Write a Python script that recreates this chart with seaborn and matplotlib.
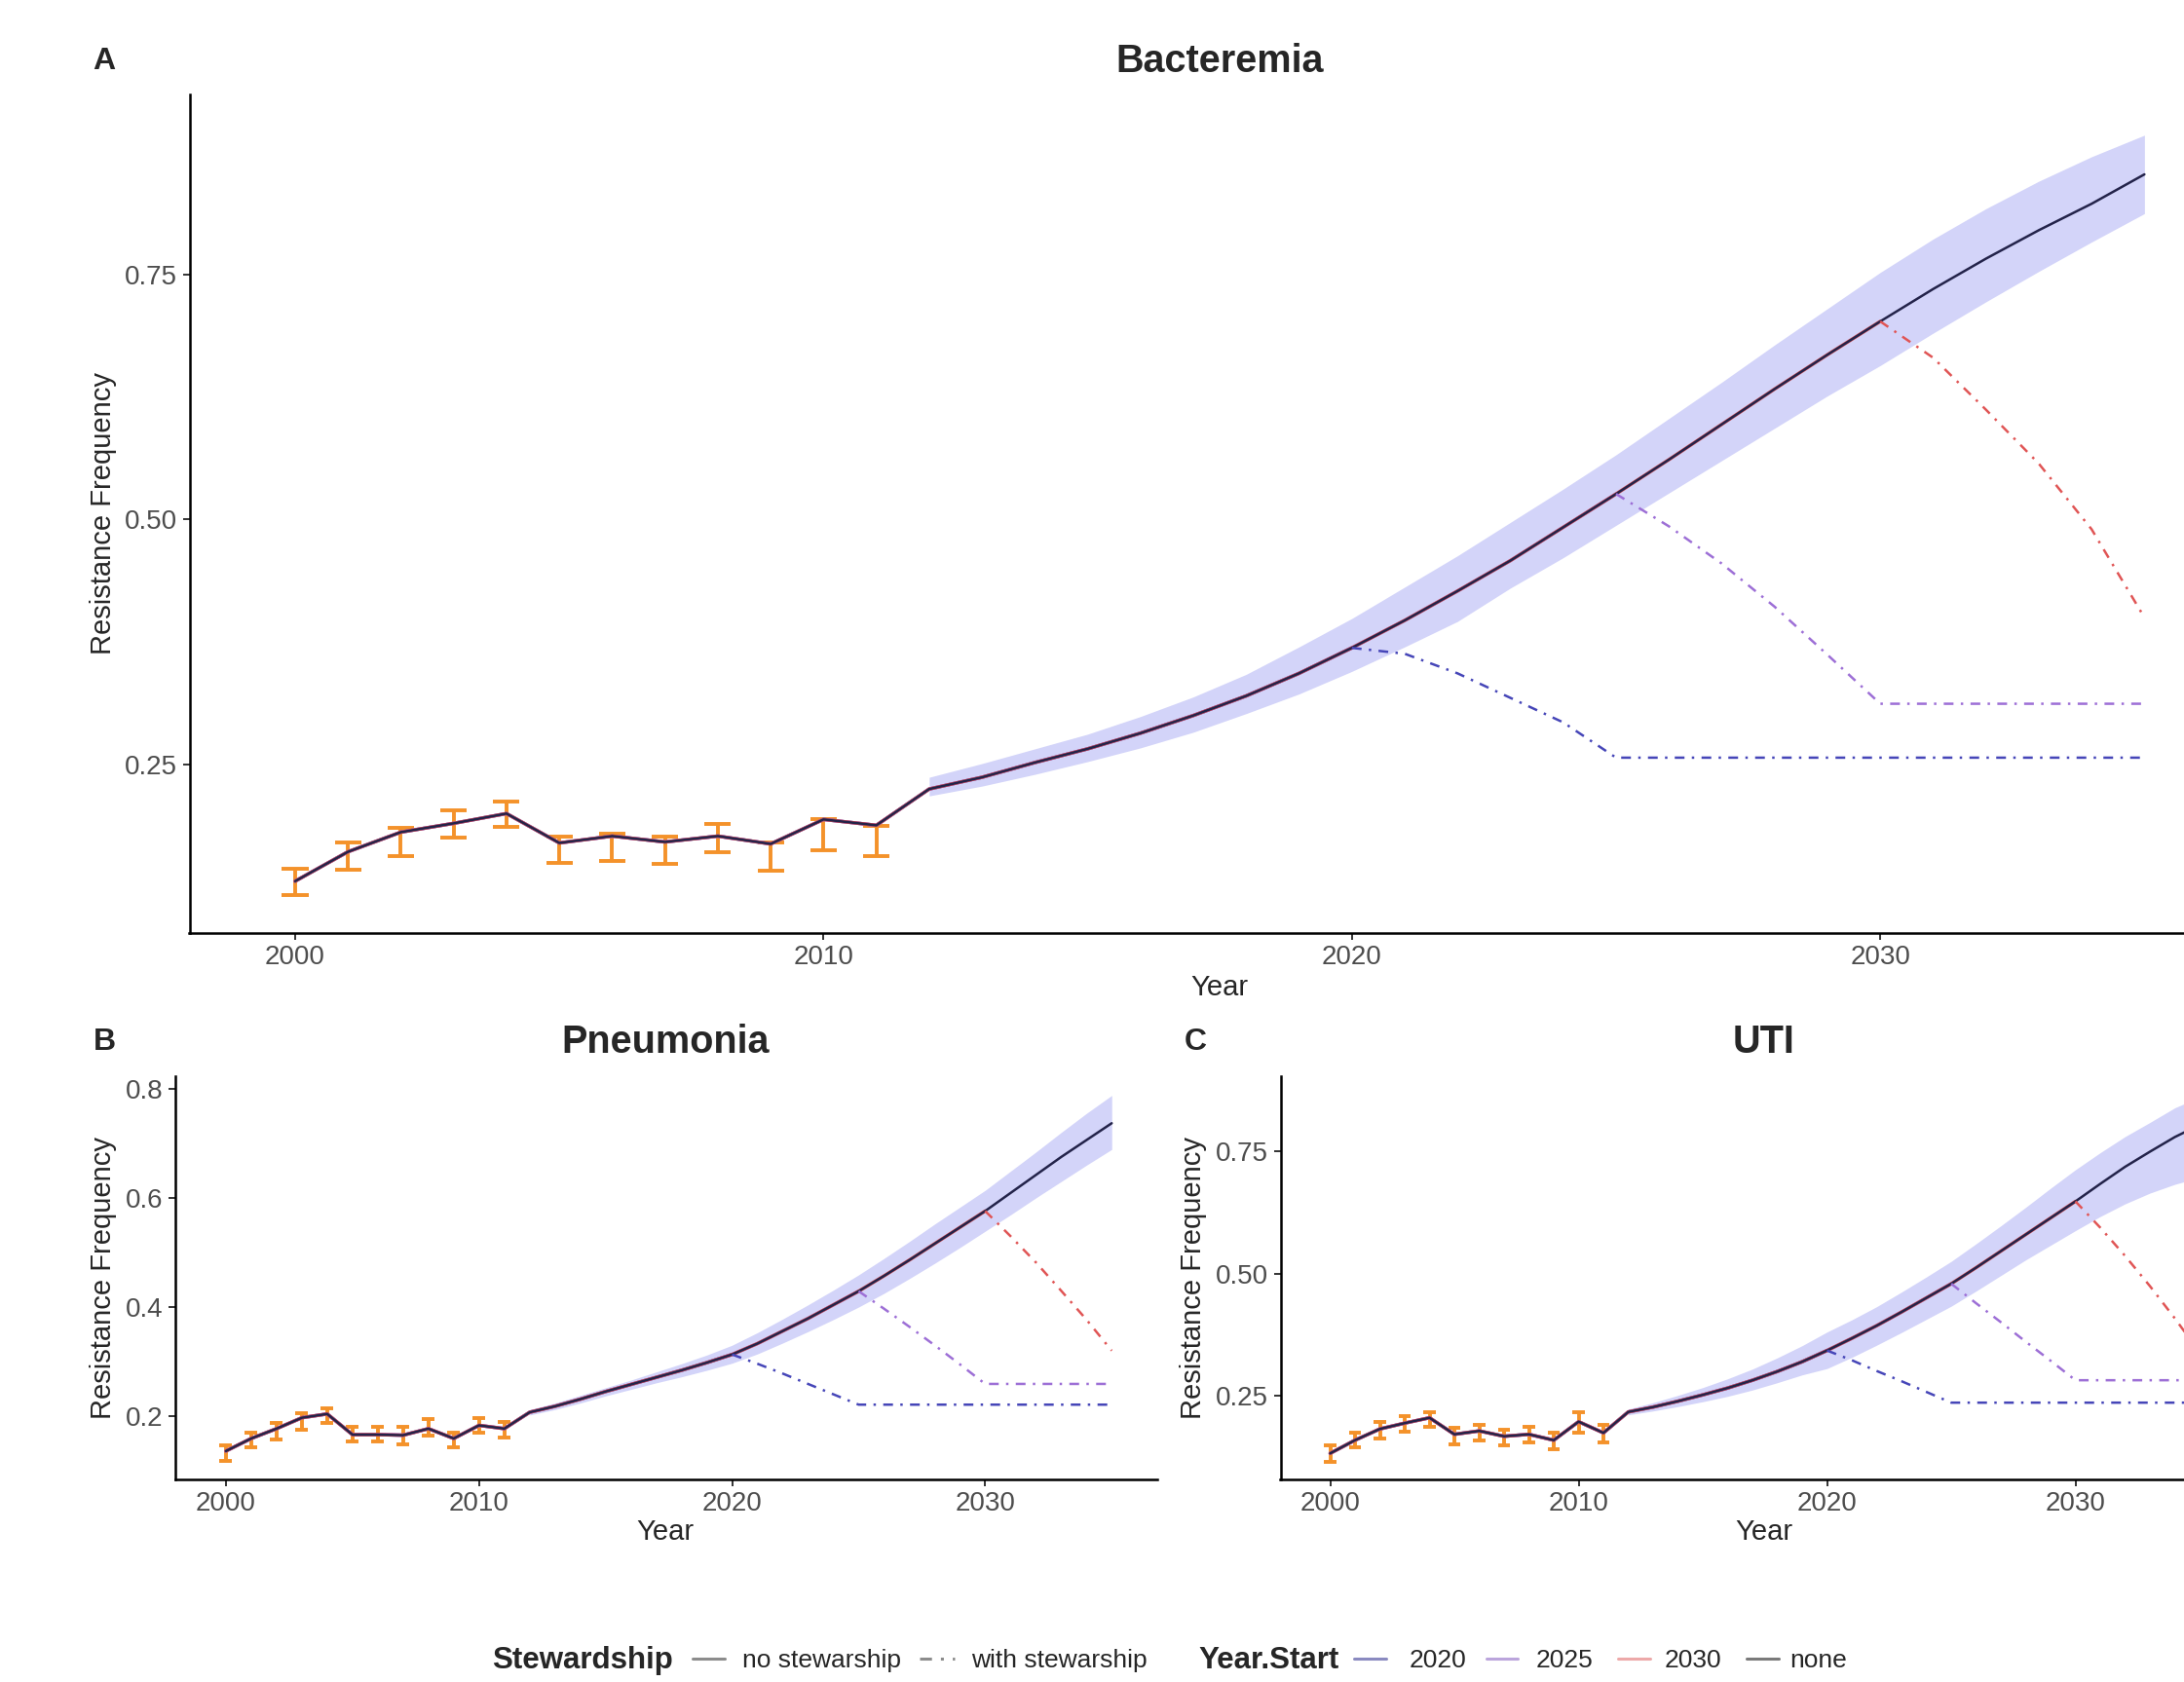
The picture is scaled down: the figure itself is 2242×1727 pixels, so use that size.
import numpy as np
import pandas as pd
import matplotlib
matplotlib.use("Agg")
import matplotlib.pyplot as plt
from matplotlib.lines import Line2D
import seaborn as sns

# Years
years_obs = list(range(2000, 2012))
years_fit = list(range(2000, 2036))
years_band = list(range(2012, 2036))
start_years = [2020, 2025, 2030]

# Panel A: Bacteremia
bact_fit = [0.131, 0.161, 0.181, 0.190, 0.200, 0.170, 0.177, 0.171, 0.177, 0.169, 0.194, 0.188,
            0.225, 0.237, 0.252, 0.266, 0.282, 0.300, 0.320, 0.343, 0.369, 0.397, 0.427, 0.458,
            0.492, 0.526, 0.561, 0.597, 0.633, 0.668, 0.702, 0.735, 0.766, 0.795, 0.822, 0.852]
bact_upper = [0.237, 0.251, 0.266, 0.281, 0.299, 0.319, 0.342, 0.370, 0.399, 0.431, 0.463, 0.497,
              0.531, 0.566, 0.603, 0.640, 0.678, 0.715, 0.752, 0.786, 0.817, 0.845, 0.870, 0.892]
bact_lower = [0.218, 0.228, 0.240, 0.253, 0.267, 0.283, 0.302, 0.322, 0.345, 0.370, 0.396, 0.430,
              0.461, 0.494, 0.527, 0.560, 0.593, 0.626, 0.657, 0.690, 0.722, 0.753, 0.783, 0.812]
bact_obs_lo = [0.117, 0.143, 0.157, 0.175, 0.186, 0.150, 0.152, 0.149, 0.161, 0.142, 0.163, 0.157]
bact_obs_hi = [0.144, 0.170, 0.185, 0.203, 0.212, 0.176, 0.179, 0.176, 0.189, 0.170, 0.194, 0.187]
bact_2020 = [0.369, 0.363, 0.343, 0.318, 0.293, 0.257, 0.257, 0.257, 0.257, 0.257, 0.257, 0.257,
             0.257, 0.257, 0.257, 0.257]
bact_2025 = [0.526, 0.493, 0.455, 0.411, 0.362, 0.312, 0.312, 0.312, 0.312, 0.312, 0.312]
bact_2030 = [0.702, 0.665, 0.612, 0.557, 0.490, 0.400]

# Panel B: Pneumonia
pneu_fit = [0.136, 0.159, 0.177, 0.197, 0.204, 0.166, 0.166, 0.165, 0.177, 0.159, 0.183, 0.177,
            0.207, 0.218, 0.231, 0.245, 0.258, 0.271, 0.284, 0.298, 0.313, 0.333, 0.356, 0.379,
            0.404, 0.429, 0.457, 0.486, 0.516, 0.546, 0.576, 0.609, 0.642, 0.675, 0.706, 0.737]
pneu_upper = [0.212, 0.224, 0.238, 0.252, 0.266, 0.281, 0.296, 0.312, 0.330, 0.353, 0.378, 0.404,
              0.431, 0.459, 0.489, 0.520, 0.552, 0.583, 0.614, 0.649, 0.684, 0.720, 0.755, 0.788]
pneu_lower = [0.202, 0.212, 0.224, 0.237, 0.249, 0.261, 0.272, 0.284, 0.297, 0.314, 0.334, 0.355,
              0.377, 0.400, 0.425, 0.452, 0.480, 0.509, 0.539, 0.569, 0.600, 0.630, 0.660, 0.689]
pneu_obs_lo = [0.118, 0.142, 0.157, 0.175, 0.187, 0.153, 0.153, 0.149, 0.164, 0.142, 0.170, 0.160]
pneu_obs_hi = [0.146, 0.170, 0.187, 0.205, 0.214, 0.180, 0.180, 0.180, 0.194, 0.170, 0.197, 0.190]
pneu_2020 = [0.313, 0.296, 0.278, 0.259, 0.240, 0.221, 0.221, 0.221, 0.221, 0.221, 0.221, 0.221,
             0.221, 0.221, 0.221, 0.221]
pneu_2025 = [0.429, 0.397, 0.364, 0.330, 0.295, 0.259, 0.259, 0.259, 0.259, 0.259, 0.259]
pneu_2030 = [0.576, 0.530, 0.482, 0.430, 0.377, 0.320]

# Panel C: UTI
uti_fit = [0.131, 0.158, 0.181, 0.193, 0.204, 0.170, 0.177, 0.166, 0.170, 0.158, 0.196, 0.173,
           0.216, 0.226, 0.238, 0.251, 0.265, 0.281, 0.299, 0.319, 0.342, 0.367, 0.393, 0.421,
           0.450, 0.479, 0.512, 0.546, 0.580, 0.614, 0.648, 0.684, 0.719, 0.750, 0.780, 0.805]
uti_upper = [0.222, 0.235, 0.250, 0.266, 0.284, 0.304, 0.327, 0.352, 0.380, 0.405, 0.432, 0.462,
             0.493, 0.525, 0.561, 0.598, 0.636, 0.675, 0.713, 0.748, 0.781, 0.810, 0.840, 0.862]
uti_lower = [0.210, 0.218, 0.227, 0.237, 0.248, 0.261, 0.276, 0.292, 0.305, 0.328, 0.353, 0.379,
             0.406, 0.433, 0.464, 0.496, 0.528, 0.558, 0.588, 0.617, 0.643, 0.665, 0.683, 0.697]
uti_obs_lo = [0.114, 0.143, 0.162, 0.175, 0.185, 0.150, 0.158, 0.147, 0.154, 0.139, 0.173, 0.154]
uti_obs_hi = [0.147, 0.173, 0.195, 0.208, 0.215, 0.183, 0.190, 0.180, 0.185, 0.173, 0.215, 0.190]
uti_2020 = [0.342, 0.322, 0.300, 0.279, 0.257, 0.235, 0.235, 0.235, 0.235, 0.235, 0.235, 0.235,
            0.235, 0.235, 0.235, 0.235]
uti_2025 = [0.479, 0.439, 0.400, 0.360, 0.321, 0.281, 0.281, 0.281, 0.281, 0.281, 0.281]
uti_2030 = [0.648, 0.594, 0.536, 0.474, 0.408, 0.338]

# Colours
BAND = '#d3d4f9'
ORANGE = '#f4922a'
NAVY = '#23234a'
START_COLS = ['#4646b8', '#9d6fd6', '#e05555']
DASHDOT = (0, (4, 3, 1, 3))

sns.set_style("ticks")
plt.rcParams['font.family'] = ['Liberation Sans', 'DejaVu Sans']

fig = plt.figure(figsize=(22.42, 17.27), dpi=100)
W, H = 2242, 1727


def px_rect(left, right, top, bottom):
    return [left / W, 1 - bottom / H, (right - left) / W, (bottom - top) / H]


def draw_panel(ax, fit, upper, lower, lo, hi, stew, ylim, yticks, ylabels):
    ax.fill_between(years_band, lower, upper, color=BAND, lw=0, zorder=1)
    xo = np.array(years_obs)
    ax.vlines(xo, lo, hi, color=ORANGE, lw=2.8, zorder=2)
    ax.hlines(lo, xo - 0.25, xo + 0.25, color=ORANGE, lw=2.8, zorder=2)
    ax.hlines(hi, xo - 0.25, xo + 0.25, color=ORANGE, lw=2.8, zorder=2)
    # no-stewardship part of each scenario
    for start, col in zip(start_years, START_COLS):
        n = start - 2000 + 1
        sns.lineplot(x=years_fit[:n], y=fit[:n], ax=ax, color=col, lw=2.5,
                     legend=False, zorder=3)
    sns.lineplot(x=years_fit, y=fit, ax=ax, color=NAVY, lw=1.8, legend=False, zorder=4)
    # with stewardship
    for start, vals, col in zip(start_years, stew, START_COLS):
        sns.lineplot(x=list(range(start, 2036)), y=vals, ax=ax, color=col, lw=1.8,
                     linestyle=DASHDOT, legend=False, zorder=4)
    ax.set_xlim(1998.0, 2036.8)
    ax.set_ylim(*ylim)
    ax.set_xticks([2000, 2010, 2020, 2030])
    ax.set_xticklabels(['2000', '2010', '2020', '2030'])
    ax.set_yticks(yticks)
    ax.set_yticklabels(ylabels)
    ax.set_xlabel('')
    ax.set_ylabel('')
    sns.despine(ax=ax)
    for s in ['left', 'bottom']:
        ax.spines[s].set_linewidth(1.8)
        ax.spines[s].set_color('black')
    ax.tick_params(axis='both', length=5, width=1.4, color='#333333',
                   labelsize=20, labelcolor='#4d4d4d', pad=4)
    ax.grid(False)


axA = fig.add_axes(px_rect(194.5, 2299, 97, 958))
draw_panel(axA, bact_fit, bact_upper, bact_lower, bact_obs_lo, bact_obs_hi,
           [bact_2020, bact_2025, bact_2030], (0.0781, 0.9335),
           [0.25, 0.5, 0.75], ['0.25', '0.50', '0.75'])

axB = fig.add_axes(px_rect(180, 1188, 1105, 1518.5))
draw_panel(axB, pneu_fit, pneu_upper, pneu_lower, pneu_obs_lo, pneu_obs_hi,
           [pneu_2020, pneu_2025, pneu_2030], (0.0848, 0.8232),
           [0.2, 0.4, 0.6, 0.8], ['0.2', '0.4', '0.6', '0.8'])

axC = fig.add_axes(px_rect(1314.5, 2304, 1105, 1518.5))
draw_panel(axC, uti_fit, uti_upper, uti_lower, uti_obs_lo, uti_obs_hi,
           [uti_2020, uti_2025, uti_2030], (0.0785, 0.9048),
           [0.25, 0.5, 0.75], ['0.25', '0.50', '0.75'])


def ftext(x, y, s, **kw):
    fig.text(x / W, 1 - y / H, s, **kw)


# titles and panel tags
ftext(1252, 63, 'Bacteremia', ha='center', va='center', fontsize=28.5, fontweight='bold')
ftext(107, 63, 'A', ha='center', va='center', fontsize=23, fontweight='bold')
ftext(683, 1070, 'Pneumonia', ha='center', va='center', fontsize=28.5, fontweight='bold')
ftext(107, 1070, 'B', ha='center', va='center', fontsize=23, fontweight='bold')
ftext(1811, 1070, 'UTI', ha='center', va='center', fontsize=28.5, fontweight='bold')
ftext(1227, 1070, 'C', ha='center', va='center', fontsize=23, fontweight='bold')

# axis titles
for x, y in [(106, 527), (106, 1312), (1225, 1312)]:
    ftext(x, y, 'Resistance Frequency', ha='center', va='center', rotation=90, fontsize=21)
for x, y in [(1252, 1014), (683, 1573), (1811, 1573)]:
    ftext(x, y, 'Year', ha='center', va='center', fontsize=21)

# legend along the bottom
ly = 1705
ftext(505, ly, 'Stewardship', ha='left', va='center', fontsize=22.5, fontweight='bold')
ftext(762, ly, 'no stewarship', ha='left', va='center', fontsize=19)
ftext(997, ly, 'with stewarship', ha='left', va='center', fontsize=19)
ftext(1230, ly, 'Year.Start', ha='left', va='center', fontsize=22.5, fontweight='bold')
ftext(1447, ly, '2020', ha='left', va='center', fontsize=19)
ftext(1577, ly, '2025', ha='left', va='center', fontsize=19)
ftext(1709, ly, '2030', ha='left', va='center', fontsize=19)
ftext(1837, ly, 'none', ha='left', va='center', fontsize=19)

keys = [
    (711, 744, '#8c8c8c', '-'),
    (944, 980, '#8c8c8c', DASHDOT),
    (1390, 1423, '#8a8ac0', '-'),
    (1526, 1558, '#bba5dc', '-'),
    (1661, 1694, '#eda9a9', '-'),
    (1793, 1826, '#7a7a7a', '-'),
]
yk = 1 - (ly - 2) / H
for x0, x1, col, ls in keys:
    fig.add_artist(Line2D([x0 / W, x1 / W], [yk, yk], transform=fig.transFigure,
                          color=col, lw=2.2, linestyle=ls))

fig.savefig('out.png', dpi=100)
